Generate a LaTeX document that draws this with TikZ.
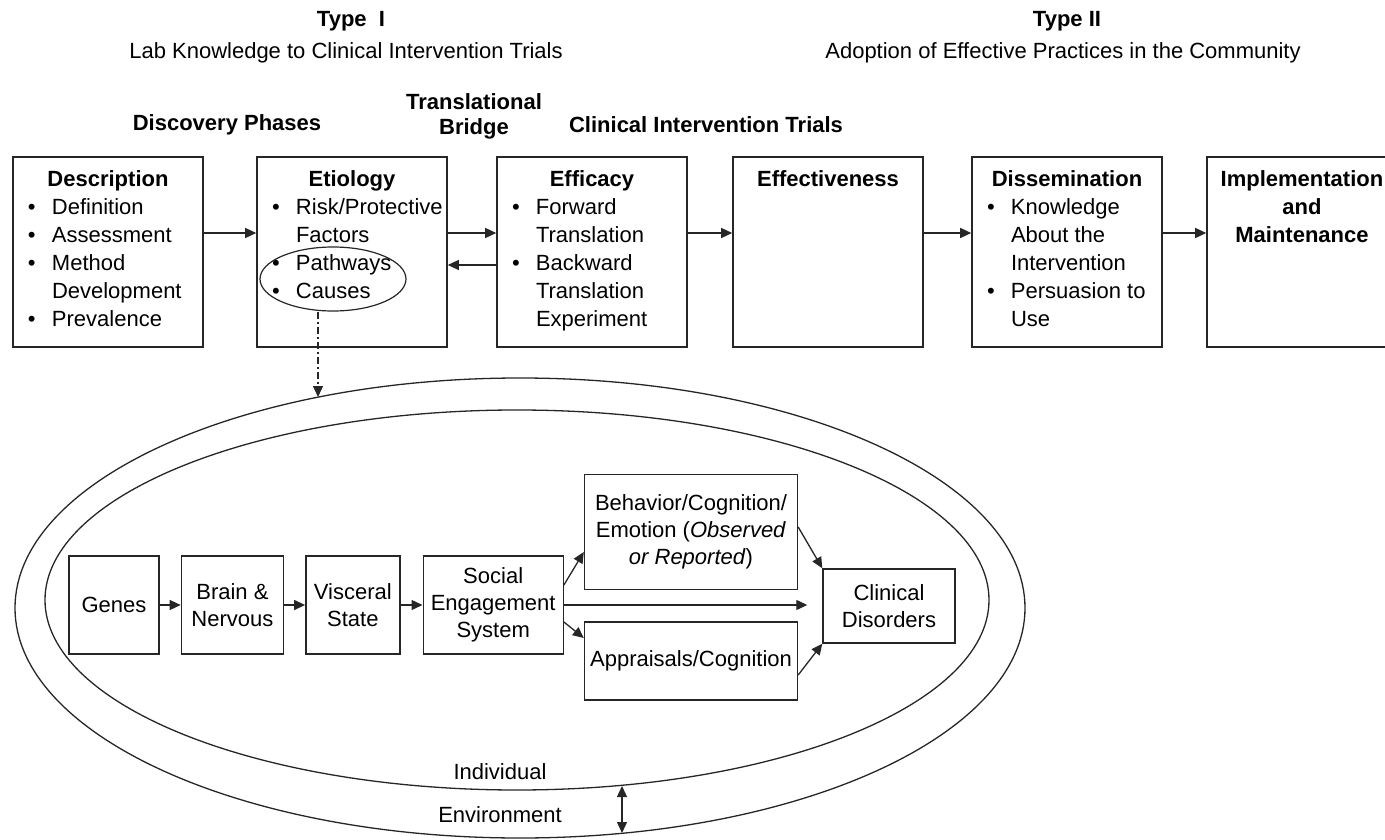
\documentclass[tikz,border=0pt]{standalone}
\usepackage{fontspec}
\setmainfont{Liberation Sans}
\usetikzlibrary{arrows.meta,positioning,shapes.geometric}
\newcommand{\basefont}{\fontsize{22}{28}\selectfont}
\newcommand{\bul}{\hspace*{5pt}\makebox[24pt][l]{\textbullet}}
\newcommand{\nob}{\hspace*{29pt}}
\newcommand{\ptitle}[1]{{\centering\bfseries #1\par}}
\newcommand{\phasetext}[1]{\begin{minipage}[t][162pt][t]{170pt}\raggedright\hyphenpenalty=10000 #1\end{minipage}}
\tikzset{
  phase/.style={draw=black!85, line width=1.6pt, inner xsep=10pt, inner ysep=14pt},
  cell/.style={draw=black!85, line width=1.4pt, align=center, inner sep=2pt, font=\fontsize{22}{27}\selectfont},
  ring/.style={draw=black!85, ellipse, line width=1.3pt, inner sep=0pt},
  headb/.style={font=\basefont\bfseries},
  arr/.style={-{Triangle[length=11pt,width=10pt]}, line width=1.3pt, black!85},
  dblarr/.style={{Triangle[length=11pt,width=10pt]}-{Triangle[length=11pt,width=10pt]}, line width=1.3pt, black!85},
  dasharr/.style={arr, dash pattern=on 7pt off 3pt on 2pt off 3pt}}

\begin{document}
\begin{tikzpicture}[x=1pt, y=-1pt, font=\basefont, node distance=21pt]
  \useasboundingbox (0,0) rectangle (1385,840);
  % headings
  \node[headb] (type1) at (351,21) {Type~~I};
  \node (type1sub) at (346,53) {Lab Knowledge to Clinical Intervention Trials};
  \node[headb] (type2) at (1067,21) {Type II};
  \node (type2sub) at (1063,53) {Adoption of Effective Practices in the Community};
  \node[headb] (disc) at (227,125) {Discovery Phases};
  \node[headb, align=center, font=\fontsize{22}{25}\selectfont\bfseries] (bridge) at (474,116) {Translational\\Bridge};
  \node[headb] (trials) at (706,125) {Clinical Intervention Trials};
  % phases
  \node[phase] (desc) at (108,252) {\phasetext{\ptitle{Description}
    \bul Definition\\ \bul Assessment\\ \bul Method\\ \nob Development\\ \bul Prevalence}};
  \node[phase] (etio) at (352,252) {\phasetext{\ptitle{Etiology}
    \bul Risk/Protective\\ \nob Factors\\ \bul Pathways\\ \bul Causes}};
  \node[phase] (effi) at (592,252) {\phasetext{\ptitle{Efficacy}
    \bul Forward\\ \nob Translation\\ \bul Backward\\ \nob Translation\\ \nob Experiment}};
  \node[phase] (effe) at (828,252) {\phasetext{\ptitle{Effectiveness}}};
  \node[phase] (diss) at (1067,252) {\phasetext{\ptitle{Dissemination}
    \bul Knowledge\\ \nob About the\\ \nob Intervention\\ \bul Persuasion to\\ \nob Use}};
  \node[phase] (impl) at (1302,252) {\phasetext{\ptitle{Implementation\\and\\Maintenance}}};
  \node[ring, line width=1.2pt, minimum width=146pt, minimum height=64pt] (causes) at (333,279) {};
  \draw[arr] ([yshift=19pt]desc.east) -- ([yshift=19pt]etio.west);
  \draw[arr] ([yshift=19pt]etio.east) -- ([yshift=19pt]effi.west);
  \draw[arr] ([yshift=-13pt]effi.west) -- ([yshift=-13pt]etio.east);
  \draw[arr] ([yshift=19pt]effi.east) -- ([yshift=19pt]effe.west);
  \draw[arr] ([yshift=19pt]effe.east) -- ([yshift=19pt]diss.west);
  \draw[arr] ([yshift=19pt]diss.east) -- ([yshift=19pt]impl.west);
  % individual and environment
  \node[ring, minimum width=1010pt, minimum height=460pt] (env) at (520,608) {};
  \node[ring, minimum width=944pt, minimum height=380pt] (indiv) at (517,600) {};
  \coordinate (envtop) at (318,397);
  \coordinate (indivrim) at (622,786);
  \coordinate (envrim) at (622,833);
  \draw[dasharr] ([xshift=-15pt]causes.south) -- (envtop);
  \node (indivlbl) at (500,772) {Individual};
  \node (envlbl) at (500,815) {Environment};
  \draw[dblarr] (indivrim) -- (envrim);
  % pathway chain
  \node[cell, minimum width=90pt, minimum height=98pt] (genes) at (114,605) {Genes};
  \node[cell, minimum width=102pt, minimum height=98pt, right=of genes] (brain) {Brain \&\\Nervous};
  \node[cell, minimum width=94pt, minimum height=98pt, right=of brain] (visc) {Visceral\\State};
  \node[cell, minimum width=140pt, minimum height=98pt, right=22pt of visc] (ses) {Social\\Engagement\\System};
  \node[cell, minimum width=213pt, minimum height=115pt] (behav) at (691,532) {Behavior/Cognition/\\Emotion (\textit{Observed}\\\textit{or Reported})};
  \node[cell, minimum width=213pt, minimum height=78pt] (appr) at (691,661) {Appraisals/Cognition};
  \node[cell, minimum width=132pt, minimum height=74pt] (clin) at (889,606) {Clinical\\Disorders};
  \draw[arr] (genes) -- (brain); \draw[arr] (brain) -- (visc); \draw[arr] (visc) -- (ses);
  \draw[arr] ([yshift=20pt]ses.east) -- ([yshift=-20pt]behav.west);
  \draw[arr] ([yshift=-17pt]ses.east) -- ([yshift=23pt]appr.west);
  \draw[arr, shorten >=15pt] (ses.east) -- (ses.east -| clin.west);
  \draw[arr] ([yshift=5pt]behav.east) -- (clin.north west);
  \draw[arr] ([yshift=-14pt]appr.east) -- (clin.south west);
\end{tikzpicture}
\end{document}
